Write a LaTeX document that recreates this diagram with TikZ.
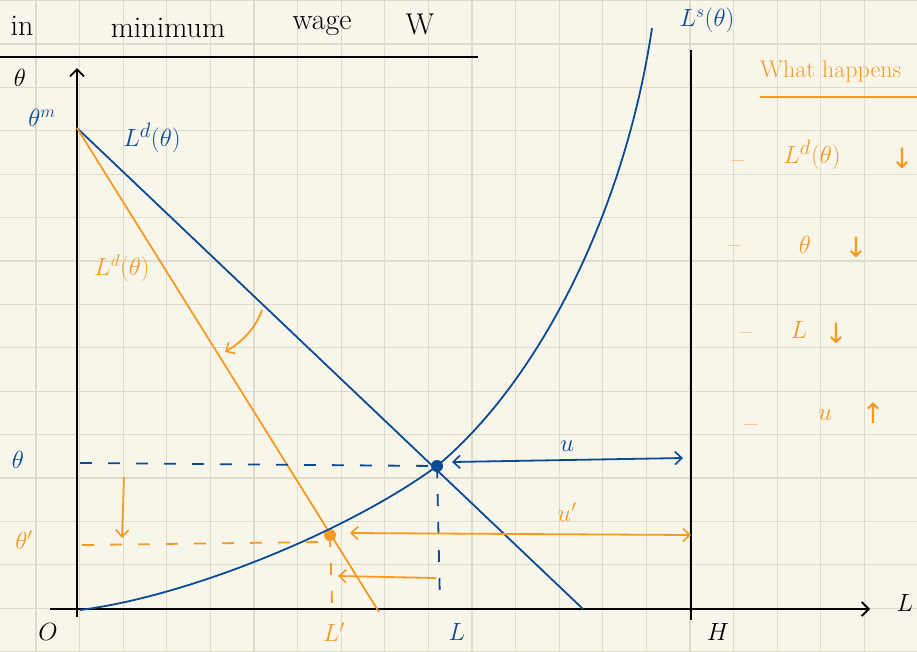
\documentclass[tikz,border=0pt]{standalone}
\usepackage{fontspec}
\usetikzlibrary{arrows.meta}
\newfontfamily\djv{DejaVu Sans}
\definecolor{paper}{HTML}{F8F6EA}
\definecolor{gridc}{HTML}{DEDBCB}
\definecolor{inkblue}{HTML}{0B4A95}
\definecolor{inkorange}{HTML}{F59A23}
\tikzset{
  barb/.style={-{Straight Barb[length=7pt,width=13pt,line width=1.6pt]}},
  dbarb/.style={{Straight Barb[length=7pt,width=13pt,line width=1.6pt]}-{Straight Barb[length=7pt,width=13pt,line width=1.6pt]}},
  blueline/.style={draw=inkblue,line width=1.8pt},
  orangeline/.style={draw=inkorange,line width=1.8pt},
  axisline/.style={draw=black,line width=2.2pt},
  hand/.style={font=\fontsize{24}{26}\selectfont,inner sep=0pt},
  big/.style={font=\fontsize{30}{32}\selectfont,inner sep=0pt},
  note/.style={font=\fontsize{28}{30}\selectfont,inner sep=0pt,text=inkorange},
  handdash/.style={dash pattern=on 12pt off 16pt},
  dot/.style={circle,inner sep=0pt,minimum size=12pt},
}
\begin{document}
\begin{tikzpicture}[x=1pt,y=-1pt]
\useasboundingbox (0,0) rectangle (917,651);
\fill[paper] (0,0) rectangle (917,651);
% grid
\foreach \k in {0,...,20} {\draw[gridc,line width=1.2pt] ({36+43.6*(\k-1)},0) -- ({36+43.6*(\k-1)},651);}
\foreach \k in {0,...,15} {\draw[gridc,line width=1.2pt] (0,{0.6+43.4*\k}) -- (917,{0.6+43.4*\k});}
% header
\node[big] (tin) at (22,26) {in};
\node[big] (tmin) at (168,28) {minimum};
\node[big] (twage) at (322,26) {wage};
\node[big] (tw) at (420,24) {W};
\coordinate (hl) at (0,57);
\coordinate (hr) at (478,57);
\draw[black,line width=1.6pt] (hl) -- (hr);
% axes
\coordinate (ybot) at (77,617);
\coordinate (ytop) at (77,68);
\coordinate (xl) at (50,609);
\coordinate (xr) at (870,609);
\coordinate (ht) at (691,50);
\coordinate (hb) at (691,620);
\draw[axisline,-{Straight Barb[length=7pt,width=14pt,line width=1.8pt]}] (ybot) -- (ytop);
\draw[axisline,-{Straight Barb[length=7pt,width=14pt,line width=1.8pt]}] (xl) -- (xr);
\draw[axisline] (ht) -- (hb);
% key points
\coordinate (thm) at (77,128);
\coordinate (bend) at (583,609);
\coordinate (oend) at (379,612);
\coordinate (sstart) at (80,610);
\coordinate (stop) at (652,28);
\node[dot,fill=inkblue] (E) at (437,466) {};
\node[dot,fill=inkorange] (Ep) at (330,535) {};
% demand curves
\draw[blueline] (thm) -- (bend);
\draw[orangeline] (thm) -- (oend);
% supply curve
\draw[blueline] (sstart) .. controls (190,596) and (350,530) .. (E.center)
  .. controls (540,380) and (625,210) .. (stop);
% dashed guides
\coordinate (bdl) at (80,463);
\coordinate (bdb) at (440,605);
\draw[blueline,handdash] (bdl) -- (E.center);
\draw[blueline,handdash] (E.center) -- (bdb);
\coordinate (odl) at (82,545);
\coordinate (odr) at (320,542);
\coordinate (odb) at (332,603);
\draw[orangeline,handdash] (odl) -- (odr);
\draw[orangeline,handdash] (Ep.center) -- (odb);
% orange arrows
\coordinate (a1s) at (124,477);
\coordinate (a1e) at (122,538);
\draw[orangeline,barb] (a1s) -- (a1e);
\coordinate (a2s) at (436,578);
\coordinate (a2e) at (338,576);
\draw[orangeline,barb] (a2s) -- (a2e);
\coordinate (a3s) at (262,310);
\coordinate (a3e) at (225,352);
\draw[orangeline,barb] (a3s) .. controls (255,330) and (240,343) .. (a3e);
% unemployment arrows
\coordinate (us) at (452,462);
\coordinate (ue) at (683,458);
\draw[blueline,dbarb] (us) -- (ue);
\coordinate (ups) at (350,533);
\coordinate (upe) at (691,535);
\draw[orangeline,dbarb] (ups) -- (upe);
% labels
\node[hand] (lth) at (20,78) {$\theta$};
\node[hand,text=inkblue] (lthm) at (42,118) {$\theta^{m}$};
\node[big,text=inkblue] (lLdb) at (152,138) {$L^{d}(\theta)$};
\node[hand,text=inkorange] (lLdo) at (122,268) {$L^{d}(\theta)$};
\node[hand,text=inkblue] (lLs) at (707,20) {$L^{s}(\theta)$};
\node[hand,text=inkblue] (lthe) at (18,460) {$\theta$};
\node[hand,text=inkorange] (lthp) at (24,540) {$\theta'$};
\node[hand] (lO) at (48,632) {$O$};
\node[hand,text=inkorange] (lLp) at (334,632) {$L'$};
\node[hand,text=inkblue] (lL) at (457,632) {$L$};
\node[hand] (lH) at (718,632) {$H$};
\node[hand] (lx) at (905,603) {$L$};
\node[hand,text=inkblue] (lu) at (567,446) {$u$};
\node[hand,text=inkorange] (lup) at (567,512) {$u'$};
% right notes
\node[hand,text=inkorange,anchor=west] (what) at (760,72) {What happens};
\coordinate (wl) at (760,97);
\coordinate (wr) at (917,97);
\draw[orangeline] (wl) -- (wr);
\node[note] (d1) at (738,165) {–};
\node[note] (n1a) at (812,155) {$L^{d}(\theta)$};
\node[note] (n1b) at (902,158) {\djv↓};
\node[note] (d2) at (734,250) {–};
\node[note] (n2a) at (805,245) {$\theta$};
\node[note] (n2b) at (856,247) {\djv↓};
\node[note] (d3) at (746,337) {–};
\node[note] (n3a) at (799,330) {$L$};
\node[note] (n3b) at (836,333) {\djv↓};
\node[note] (d4) at (751,429) {–};
\node[note] (n4a) at (825,415) {$u$};
\node[note] (n4b) at (873,413) {\djv↑};
\end{tikzpicture}
\end{document}
